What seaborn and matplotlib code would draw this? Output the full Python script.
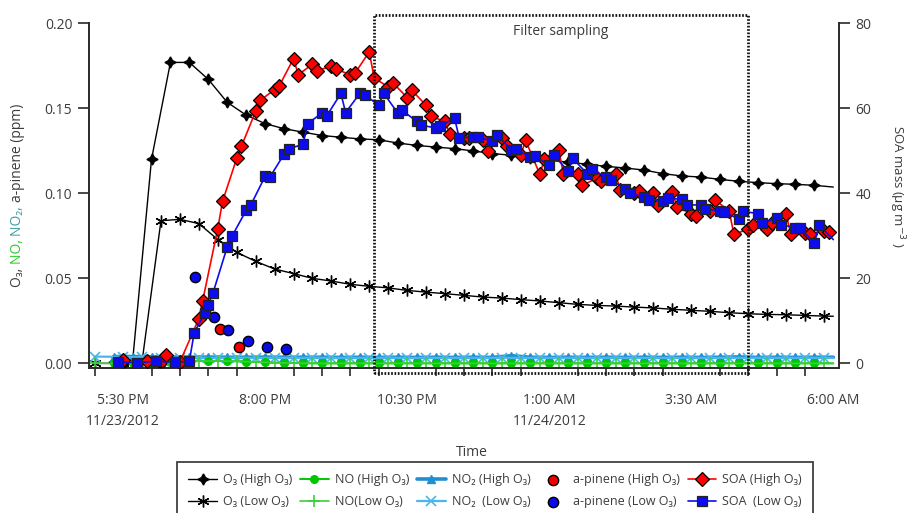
import matplotlib
matplotlib.use("Agg")
import matplotlib.pyplot as plt
import matplotlib.transforms as mtransforms
from matplotlib.patches import Rectangle
import pandas as pd
import seaborn as sns

# ---------------- data ----------------
day0 = pd.Timestamp("2012-11-23")

# gas-phase sampling schedule (high-O3 chamber on :00/:20/:40, low-O3 chamber offset by 10 min)
high_times = pd.date_range("2012-11-23 17:20", "2012-11-24 06:00", freq="20min")
low_times = pd.DatetimeIndex(
    [pd.Timestamp("2012-11-23 17:00")]
    + list(pd.date_range("2012-11-23 17:30", "2012-11-24 05:50", freq="20min"))
    + [pd.Timestamp("2012-11-24 06:00")]
)

o3_high = [0.001, 0.001, 0.120, 0.177, 0.177, 0.167, 0.1535, 0.146, 0.141, 0.138,
           0.136, 0.134, 0.133, 0.132, 0.1315, 0.1296, 0.1282, 0.1272, 0.1263, 0.1249,
           0.1234, 0.1224, 0.1210, 0.1194, 0.1184, 0.1171, 0.1159, 0.1149, 0.1137, 0.1116,
           0.1102, 0.1096, 0.1082, 0.1071, 0.1063, 0.1057, 0.1053, 0.1047, 0.1037]
o3_low = [0.000, 0.000, 0.001, 0.0839, 0.0847, 0.0822, 0.0728, 0.0653, 0.0600, 0.0555,
          0.0528, 0.0500, 0.0484, 0.0465, 0.0453, 0.0444, 0.0429, 0.0419, 0.0410, 0.0400,
          0.0390, 0.0384, 0.0375, 0.0367, 0.0357, 0.0347, 0.0341, 0.0337, 0.0331, 0.0326,
          0.0318, 0.0312, 0.0306, 0.0298, 0.0292, 0.0288, 0.0286, 0.0282, 0.0278, 0.0277]
no_high = [0.0, 0.0, 0.0003, 0.0008, 0.0012, 0.0015, 0.0014, 0.0010, 0.0006, 0.0003,
           0.0001, 0.0, 0.0, 0.0, 0.0, 0.0, 0.0, 0.0, 0.0, 0.0,
           0.0, 0.0, 0.0, 0.0, 0.0, 0.0, 0.0, 0.0, 0.0, 0.0,
           0.0, 0.0, 0.0, 0.0, 0.0, 0.0, 0.0, 0.0, 0.0]
no_low = [0.0, 0.0, 0.0, 0.0005, 0.0010, 0.0013, 0.0014, 0.0012, 0.0008, 0.0004,
          0.0002, 0.0, 0.0, 0.0, 0.0, 0.0, 0.0, 0.0, 0.0, 0.0,
          0.0, 0.0, 0.0, 0.0, 0.0, 0.0, 0.0, 0.0, 0.0, 0.0,
          0.0, 0.0, 0.0, 0.0, 0.0, 0.0, 0.0, 0.0, 0.0, 0.0]
no2_high = [0.0040, 0.0040, 0.0039, 0.0038, 0.0037, 0.0037, 0.0036, 0.0036, 0.0037, 0.0036,
            0.0036, 0.0036, 0.0035, 0.0036, 0.0035, 0.0036, 0.0035, 0.0036, 0.0035, 0.0036,
            0.0035, 0.0045, 0.0036, 0.0035, 0.0036, 0.0035, 0.0036, 0.0035, 0.0036, 0.0035,
            0.0036, 0.0035, 0.0036, 0.0038, 0.0035, 0.0036, 0.0035, 0.0036, 0.0036]
no2_low = [0.0040, 0.0038, 0.0036, 0.0034, 0.0033, 0.0033, 0.0032, 0.0033, 0.0032, 0.0033,
           0.0032, 0.0033, 0.0032, 0.0033, 0.0032, 0.0033, 0.0032, 0.0033, 0.0032, 0.0033,
           0.0032, 0.0033, 0.0032, 0.0033, 0.0032, 0.0033, 0.0032, 0.0033, 0.0032, 0.0033,
           0.0032, 0.0033, 0.0032, 0.0033, 0.0032, 0.0033, 0.0032, 0.0033, 0.0032, 0.0032]

apinene_high_times = ["17:30", "18:10", "18:56", "19:12", "19:32"]
apinene_high = [0.001, 0.001, 0.030, 0.020, 0.0098]
apinene_low_times = ["18:46", "19:06", "19:21", "19:42", "20:02", "20:22"]
apinene_low = [0.0509, 0.0271, 0.0194, 0.0131, 0.0098, 0.0082]

soa_high_times = ["17:30", "17:55", "18:15", "18:30", "18:50", "18:54",
                  "19:10", "19:15", "19:30", "19:35", "19:50", "19:55",
                  "20:10", "20:15", "20:30", "20:35", "20:50", "20:55",
                  "21:10", "21:15", "21:30", "21:35", "21:50", "21:55",
                  "22:10", "22:15", "22:30", "22:35", "22:50", "22:55",
                  "23:10", "23:15", "23:30", "23:35", "23:50", "23:55",
                  "00:10", "00:15", "00:30", "00:35", "00:50", "00:55",
                  "01:10", "01:15", "01:30", "01:35", "01:50", "01:55",
                  "02:10", "02:15", "02:30", "02:35", "02:50", "02:55",
                  "03:10", "03:15", "03:30", "03:35", "03:50", "03:55",
                  "04:10", "04:15", "04:30", "04:35", "04:50", "04:55",
                  "05:10", "05:15", "05:30", "05:35", "05:50", "05:55"]
soa_high = [0.7, 0.5, 1.9, 0.3, 10.5, 14.7,
            31.7, 38.1, 48.2, 51.1, 59.3, 61.9,
            64.4, 65.3, 71.7, 67.9, 70.4, 68.8,
            70.0, 69.2, 67.9, 68.3, 73.3, 67.2,
            65.0, 66.0, 62.5, 64.2, 60.7, 58.1,
            56.9, 54.0, 52.9, 52.9, 52.5, 50.0,
            53.0, 51.1, 48.9, 52.5, 44.5, 48.0,
            50.3, 44.6, 44.5, 41.9, 43.5, 42.9,
            44.6, 40.7, 40.0, 40.5, 40.0, 37.3,
            40.2, 36.8, 35.2, 34.6, 35.8, 38.5,
            35.8, 30.4, 31.5, 32.5, 31.5, 32.9,
            35.2, 30.5, 30.7, 30.4, 31.1, 30.8]
soa_low_times = ["17:25", "17:45", "18:05", "18:25", "18:40", "18:45", "18:56", "19:00", "19:05",
                 "19:20", "19:25", "19:40", "19:45",
                 "20:00", "20:05", "20:20", "20:25", "20:40", "20:45",
                 "21:00", "21:05", "21:20", "21:25", "21:40", "21:45",
                 "22:00", "22:05", "22:20", "22:25", "22:40", "22:45",
                 "23:00", "23:05", "23:20", "23:25", "23:40", "23:45",
                 "00:00", "00:05", "00:20", "00:25", "00:40", "00:45",
                 "01:00", "01:05", "01:20", "01:25", "01:40", "01:45",
                 "02:00", "02:05", "02:20", "02:25", "02:40", "02:45",
                 "03:00", "03:05", "03:20", "03:25", "03:40", "03:45",
                 "04:00", "04:05", "04:20", "04:25", "04:40", "04:45",
                 "05:00", "05:05", "05:20", "05:25", "05:40", "05:45", "06:00"]
soa_low = [0.3, 0.1, 0.5, 0.2, 0.5, 7.1, 11.8, 13.8, 16.6,
           27.4, 29.9, 36.0, 37.3,
           44.0, 43.8, 49.2, 50.5, 51.5, 56.4,
           58.9, 58.2, 63.5, 59.0, 63.5, 63.2,
           60.7, 63.6, 58.9, 59.5, 56.9, 56.0,
           55.4, 55.8, 57.7, 53.0, 53.3, 53.3,
           52.2, 53.6, 50.3, 50.4, 48.5, 48.7,
           46.6, 48.9, 45.2, 48.2, 44.6, 45.6,
           43.8, 43.2, 41.1, 40.1, 39.1, 38.4,
           38.2, 38.8, 38.6, 37.2, 37.3, 36.4,
           35.8, 35.5, 34.0, 35.8, 35.2, 32.9,
           34.2, 32.6, 31.9, 31.9, 28.2, 32.5, 29.1]

filter_start, filter_end = "21:55", "04:30"

tick_times = ["17:30", "20:00", "22:30", "01:00", "03:30", "06:00"]
tick_labels = ["5:30 PM\n11/23/2012", "8:00 PM", "10:30 PM", "1:00 AM\n11/24/2012",
               "3:30 AM", "6:00 AM"]


def clock(hhmm):
    """Clock time on the evening of 11/23 or the following morning."""
    h, m = map(int, hhmm.split(":"))
    t = day0 + pd.Timedelta(hours=h, minutes=m)
    return t if h >= 12 else t + pd.Timedelta(days=1)


def clocks(seq):
    return pd.DatetimeIndex([clock(s) for s in seq])


# ---------------- style ----------------
sns.set_theme(style="white")
plt.rcParams["font.family"] = ["Open Sans", "DejaVu Sans"]
plt.rcParams["mathtext.fontset"] = "dejavusans"
TXT = "#3c3c3c"
SPINE = "#2a2a2a"

fig = plt.figure(figsize=(9.12, 5.13), dpi=100)
ax = fig.add_axes([89 / 912, 1 - 368.3 / 513, 750 / 912, 345 / 513])
ax2 = ax.twinx()


def series(axis, x, y, color, marker, ms, lw, mfc=None, mec=None, mew=1.0, hide_last=True):
    sns.lineplot(x=x, y=y, ax=axis, color=color, marker=marker, markersize=ms,
                 linewidth=lw, markerfacecolor=mfc or color, markeredgecolor=mec or color,
                 markeredgewidth=mew, estimator=None, errorbar=None, legend=False,
                 markevery=slice(0, len(y) - 1) if hide_last else None)
    return axis.lines[-1]


h_o3h = series(ax, high_times, o3_high, "black", (4, 1, 0), 8, 1.0)
h_o3l = series(ax, low_times, o3_low, "black", (6, 2, 0), 8.5, 1.0, mew=1.0)
h_no2h = series(ax, high_times, no2_high, "#1f8fd2", "^", 5.5, 2.6)
h_no2l = series(ax, low_times, no2_low, "#4bb6ea", "x", 6.5, 1.6, mew=1.2)
h_noh = series(ax, high_times, no_high, "#00c800", "o", 5.5, 1.4)
h_nol = series(ax, low_times, no_low, "#3ccf3c", "+", 8, 1.2, mew=1.2)

sns.scatterplot(x=clocks(apinene_high_times), y=apinene_high, ax=ax, color="#ee0000",
                edgecolor="black", linewidth=1.0, s=55, zorder=4, legend=False)
h_aph = ax.collections[-1]
sns.scatterplot(x=clocks(apinene_low_times), y=apinene_low, ax=ax, color="#0a0ae6",
                edgecolor="black", linewidth=1.0, s=55, zorder=4, legend=False)
h_apl = ax.collections[-1]

h_soah = series(ax2, clocks(soa_high_times), soa_high, "#ff0000", "D", 7.0, 1.2,
                mec="black", mew=0.9, hide_last=False)
h_soal = series(ax2, clocks(soa_low_times), soa_low, "#0c0cf0", "s", 6.8, 1.2,
                mec="#222222", mew=0.9)

# ---------------- axes ----------------
ax.set_xlim(clock("16:54"), clock("06:06"))
ax.set_ylim(-0.0029, 0.20)
ax2.set_ylim(-1.18, 80)
ax.set_yticks([0.0, 0.05, 0.10, 0.15, 0.20])
ax.set_yticklabels(["0.00", "0.05", "0.10", "0.15", "0.20"])
ax2.set_yticks([0, 20, 40, 60, 80])
ax.set_xticks(clocks(tick_times))
ax.set_xticklabels(tick_labels, linespacing=1.5)
ax.set_xticks(pd.date_range("2012-11-23 17:00", "2012-11-24 06:00", freq="30min"), minor=True)
ax.set_xlabel("")
ax.set_ylabel("")
ax2.set_ylabel("")

for a in (ax, ax2):
    for side, sp in a.spines.items():
        sp.set_color(SPINE)
        sp.set_linewidth(1.4)
    a.spines["top"].set_visible(False)
    a.tick_params(axis="both", which="major", direction="out", length=8, width=1.2,
                  color=SPINE, labelcolor=TXT, labelsize=10, pad=4)
ax.tick_params(axis="x", which="major", length=8, pad=10)
ax.tick_params(axis="x", which="minor", direction="out", length=5.5, width=1.2,
               color=SPINE, bottom=True)
ax.tick_params(axis="y", right=False)
ax2.tick_params(axis="y", left=False, right=True)
ax.spines["right"].set_visible(False)
ax2.spines["left"].set_visible(False)
ax2.spines["bottom"].set_visible(False)

# filter sampling window
trans = mtransforms.blended_transform_factory(ax2.transData, ax2.transAxes)
x0 = matplotlib.dates.date2num(clock(filter_start))
x1 = matplotlib.dates.date2num(clock(filter_end))
ax2.add_patch(Rectangle((x0, -0.014), x1 - x0, 1.038, transform=trans, fill=False,
                        edgecolor="#111111", linewidth=2.0, linestyle=(0, (0.6, 0.6)),
                        clip_on=False, zorder=6))
ax2.text((x0 + x1) / 2, 0.975, "Filter sampling", transform=trans, ha="center",
         va="center", fontsize=10, color=TXT)

# ---------------- labels ----------------
fig.text(472 / 912, 1 - 452 / 513, "Time", ha="center", va="center", fontsize=10,
         color=TXT)

renderer = fig.canvas.get_renderer()
y_cur = 1 - 287 / 513
for piece, col in [("O₃, ", TXT), ("NO, ", "#22cc22"), ("NO₂, ", "#3a9c9c"),
                   ("a-pinene (ppm)", TXT)]:
    t = fig.text(18 / 912, y_cur, piece, rotation=90, ha="center", va="bottom",
                 fontsize=10, color=col)
    bb = t.get_window_extent(renderer)
    y_cur += bb.height / fig.bbox.height

fig.text(897 / 912, 1 - 187 / 513, "SOA mass (µg m$^{-3}$ )", rotation=270,
         ha="center", va="center", fontsize=9.5, color=TXT)

# ---------------- legend ----------------
handles = [h_o3h, h_o3l, h_noh, h_nol, h_no2h, h_no2l, h_aph, h_apl, h_soah, h_soal]
labels = ["O₃ (High O₃)", "O₃ (Low O₃)", "NO (High O₃)", "NO(Low O₃)",
          "NO₂ (High O₃)", "NO₂  (Low O₃)", "a-pinene (High O₃)", "a-pinene (Low O₃)",
          "SOA (High O₃)", "SOA  (Low O₃)"]
leg = fig.legend(handles, labels, loc="upper left", bbox_to_anchor=(177 / 912, 1 - 462 / 513),
                 ncol=5, frameon=True, fancybox=False, fontsize=9, handlelength=2.3,
                 handletextpad=0.5, columnspacing=0.6, labelspacing=0.7, borderpad=0.9,
                 borderaxespad=0.0, markerscale=1.0, labelcolor=TXT)
leg.get_frame().set_edgecolor("#111111")
leg.get_frame().set_linewidth(1.3)

fig.savefig("out.png", dpi=100)
